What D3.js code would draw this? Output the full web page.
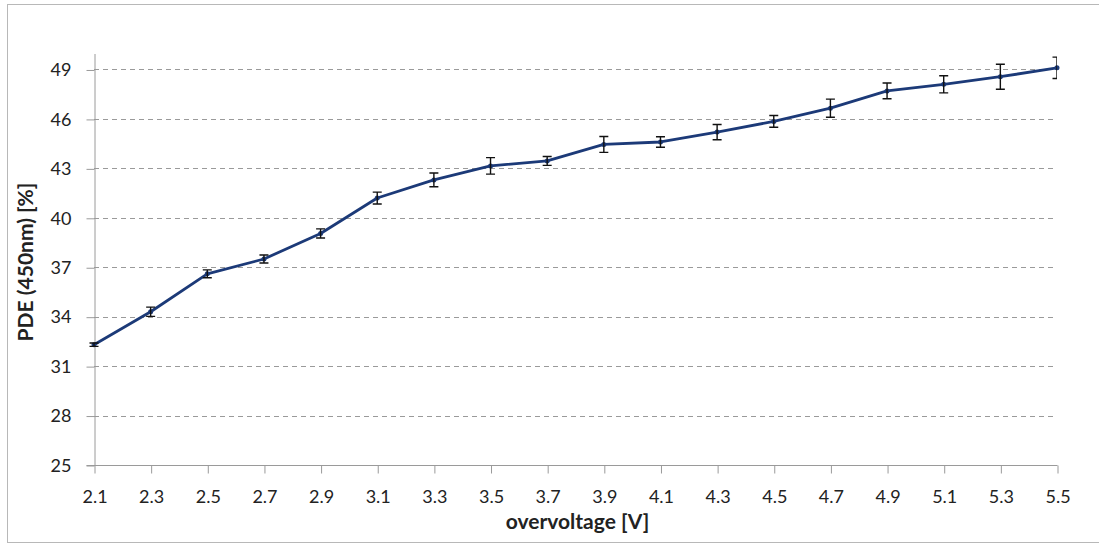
<!DOCTYPE html>
<html>
<head>
<meta charset="utf-8">
<script src="https://cdn.jsdelivr.net/npm/d3@7"></script>
<style>
	body { margin: 0; background: #fff; }
	text { font-family: Lato, "Open Sans", sans-serif; fill: #222; }
</style>
</head>
<body>
<svg width="1099" height="544"></svg>
<script>
var voltages = [2.1, 2.3, 2.5, 2.7, 2.9, 3.1, 3.3, 3.5, 3.7, 3.9, 4.1, 4.3, 4.5, 4.7, 4.9, 5.1, 5.3, 5.5];
var pde = [32.3, 34.3, 36.6, 37.5, 39.05, 41.2, 42.3, 43.15, 43.45, 44.45, 44.6, 45.2, 45.85, 46.65, 47.7, 48.1, 48.56, 49.1];
var pdeErr = [0.1, 0.28, 0.24, 0.24, 0.28, 0.36, 0.42, 0.5, 0.27, 0.48, 0.32, 0.46, 0.36, 0.55, 0.48, 0.52, 0.76, 0.65];
var yTicks = [25, 28, 31, 34, 37, 40, 43, 46, 49];

var svg = d3.select("svg");
var plotLeft = 94, plotRight = 1057, plotTop = 53, plotBottom = 465;

var x = d3.scaleLinear().domain([2.1, 5.5]).range([plotLeft, plotRight]);
var y = d3.scaleLinear().domain([25, 50]).range([plotBottom, plotTop]);

// outer frame
svg.append("rect")
	.attr("x", 7.5).attr("y", 4.5)
	.attr("width", 1100).attr("height", 538)
	.attr("fill", "none")
	.attr("stroke", "#b8b8b8")
	.attr("stroke-width", 1);

svg.append("defs").append("clipPath")
	.attr("id", "plotclip")
	.append("rect")
	.attr("x", plotLeft - 10).attr("y", 0)
	.attr("width", plotRight - plotLeft + 10).attr("height", plotBottom);

// gridlines
svg.append("g")
	.selectAll("line")
	.data(yTicks.filter(function(d) { return d > 25; }))
	.enter().append("line")
	.attr("x1", plotLeft).attr("x2", plotRight)
	.attr("y1", function(d) { return Math.round(y(d)) + 0.5; })
	.attr("y2", function(d) { return Math.round(y(d)) + 0.5; })
	.attr("stroke", "#9a9a9a")
	.attr("stroke-width", 1)
	.attr("stroke-dasharray", "5,4");

// y axis
var yAxis = svg.append("g")
	.attr("transform", "translate(" + (plotLeft + 0.5) + ",0.5)")
	.call(d3.axisLeft(y).tickValues(yTicks).tickSize(8).tickSizeOuter(0).tickPadding(15));
yAxis.select(".domain").attr("stroke", "#9a9a9a");
yAxis.selectAll(".tick line").attr("stroke", "#9a9a9a");
yAxis.selectAll(".tick text").style("font-size", "18px").attr("fill", "#222");

// x axis
var xAxis = svg.append("g")
	.attr("transform", "translate(0.5," + (plotBottom + 0.5) + ")")
	.call(d3.axisBottom(x).tickValues(voltages).tickFormat(d3.format(".1f")).tickSize(8).tickSizeOuter(0).tickPadding(17));
xAxis.select(".domain").attr("stroke", "#9a9a9a").attr("d", "M" + (plotLeft - 8) + ",0H" + plotRight);
xAxis.selectAll(".tick line").attr("stroke", "#9a9a9a");
xAxis.selectAll(".tick text").style("font-size", "18px").attr("fill", "#222");

// axis titles
svg.append("text")
	.attr("x", (plotLeft + plotRight) / 2 + 2)
	.attr("y", 529)
	.attr("text-anchor", "middle")
	.style("font-size", "21px")
	.style("font-weight", "bold")
	.text("overvoltage [V]");

svg.append("text")
	.attr("transform", "translate(33," + ((plotTop + plotBottom) / 2 + 3) + ") rotate(-90)")
	.attr("text-anchor", "middle")
	.style("font-size", "21px")
	.style("font-weight", "bold")
	.text("PDE (450nm) [%]");

var pts = voltages.map(function(v, i) { return { v: v, p: pde[i], e: pdeErr[i] }; });

// line
svg.append("path")
	.datum(pts)
	.attr("fill", "none")
	.attr("stroke", "#1c3a78")
	.attr("stroke-width", 2.8)
	.attr("stroke-linejoin", "round")
	.attr("d", d3.line().x(function(d) { return x(d.v); }).y(function(d) { return y(d.p); }));

// markers
svg.append("g")
	.selectAll("circle")
	.data(pts)
	.enter().append("circle")
	.attr("cx", function(d) { return x(d.v); })
	.attr("cy", function(d) { return y(d.p); })
	.attr("r", 2.5)
	.attr("fill", "#1c3a78");

// error bars
var err = svg.append("g")
	.attr("clip-path", "url(#plotclip)")
	.attr("stroke", "#111")
	.attr("stroke-width", 1.4)
	.attr("fill", "none");

err.selectAll("path")
	.data(pts)
	.enter().append("path")
	.attr("d", function(d) {
		var cx = x(d.v), y0 = y(d.p - d.e), y1 = y(d.p + d.e);
		return "M" + cx + "," + y0 + "V" + y1 +
			"M" + (cx - 4.5) + "," + y0 + "H" + (cx + 4.5) +
			"M" + (cx - 4.5) + "," + y1 + "H" + (cx + 4.5);
	});
</script>
</body>
</html>
